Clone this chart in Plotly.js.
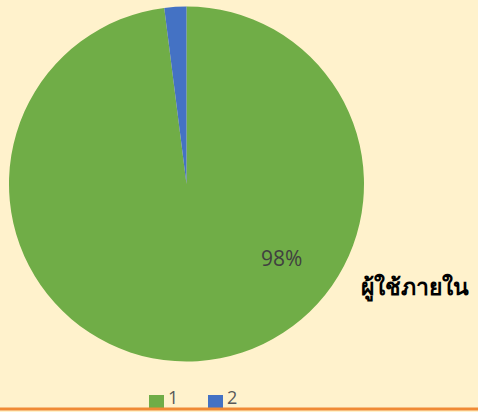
<!DOCTYPE html>
<html><head><meta charset="utf-8">
<script src="https://cdn.plot.ly/plotly-3.0.1.min.js"></script>
<style>html,body{margin:0;padding:0;background:#FFF2CC;}</style>
</head><body>
<div id="chart" style="width:478px;height:412px;"></div>
<script>
const categories = ['1', '2'];
const values = [98, 2];
const sliceColors = ['#70AD47', '#4472C4'];
const sideLabel = 'ผู้ใช้ภายใน';

const W = 478, H = 412;
const total = values.reduce((a, b) => a + b, 0);
const pctText = Math.round(values[0] / total * 100) + '%';

const trace = {
  type: 'pie',
  labels: categories,
  values: values,
  sort: false,
  direction: 'clockwise',
  rotation: 0,
  marker: {colors: sliceColors, line: {width: 0}},
  textinfo: 'none',
  hoverinfo: 'none',
  showlegend: false,
  domain: {x: [0.0188, 0.7615], y: [0.1214, 0.9854]}
};

// legend drawn manually (square + label)
const legendX = [149, 208];
const shapes = [];
const annotations = [];
categories.forEach((c, i) => {
  shapes.push({
    type: 'rect', xref: 'paper', yref: 'paper',
    x0: legendX[i] / W, x1: (legendX[i] + 15) / W,
    y0: 1 - 408 / H, y1: 1 - 395 / H,
    fillcolor: sliceColors[i], line: {width: 0}
  });
  annotations.push({
    text: c, xref: 'paper', yref: 'paper',
    x: (legendX[i] + 18) / W, y: 1 - 410 / H, xanchor: 'left', yanchor: 'bottom',
    showarrow: false, borderpad: 0,
    font: {family: 'Open Sans, sans-serif', size: 18, color: '#595959'}
  });
});

annotations.push({
  text: pctText, xref: 'paper', yref: 'paper',
  x: 281 / W, y: 1 - 258 / H, xanchor: 'center', yanchor: 'middle', showarrow: false,
  font: {family: 'Open Sans, sans-serif', size: 21, color: '#404040'}
});
annotations.push({
  text: '<b>' + sideLabel + '</b>', xref: 'paper', yref: 'paper',
  x: 0.985, y: 0.307, xanchor: 'right', yanchor: 'middle', showarrow: false,
  font: {family: 'Noto Sans, sans-serif', size: 23, color: '#000000'}
});
shapes.push({
  type: 'line', xref: 'paper', yref: 'paper', x0: 0, x1: 1, y0: 1 - 409 / H, y1: 1 - 409 / H,
  line: {color: '#F08A35', width: 3}
});

const layout = {
  width: W, height: H,
  margin: {l: 0, r: 0, t: 0, b: 0},
  paper_bgcolor: '#FFF2CC',
  plot_bgcolor: '#FFF2CC',
  showlegend: false,
  annotations: annotations,
  shapes: shapes
};

Plotly.newPlot('chart', [trace], layout, {displayModeBar: false, staticPlot: true});
</script>
</body></html>
